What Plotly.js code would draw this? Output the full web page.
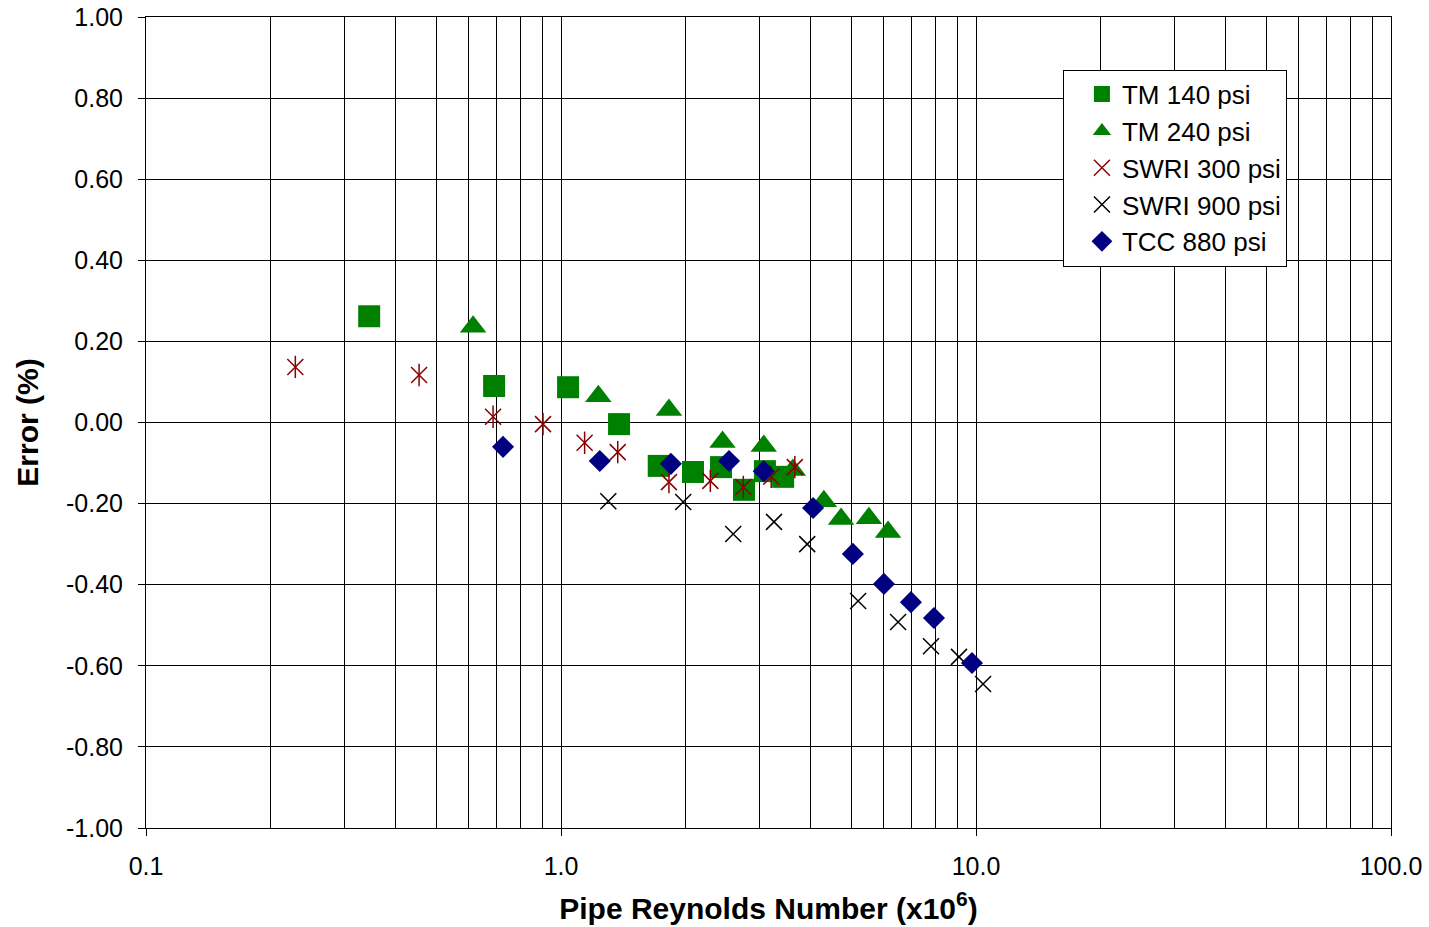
<!DOCTYPE html>
<html><head><meta charset="utf-8">
<script src="https://cdn.plot.ly/plotly-3.0.1.min.js"></script>
<style>html,body{margin:0;padding:0;background:#fff}#chart{width:1429px;height:927px}</style>
</head><body><div id="chart"></div>
<script>
// TM 140 psi
const tm140X = [0.345, 0.690, 1.04, 1.38, 1.72, 2.08, 2.43, 2.76, 3.10, 3.43];
const tm140Y = [0.262, 0.090, 0.087, -0.004, -0.107, -0.122, -0.110, -0.166, -0.120, -0.134];
// TM 240 psi
const tm240X = [0.614, 1.23, 1.82, 2.45, 3.08, 3.62, 4.30, 4.73, 5.52, 6.14];
const tm240Y = [0.236, 0.065, 0.031, -0.048, -0.058, -0.117, -0.194, -0.238, -0.236, -0.270];
// SWRI 300 psi
const swri300X = [0.229, 0.455, 0.686, 0.905, 1.14, 1.37, 1.82, 2.29, 2.75, 3.21, 3.66];
const swri300Y = [0.137, 0.117, 0.014, -0.004, -0.050, -0.073, -0.147, -0.144, -0.159, -0.134, -0.110];
// SWRI 900 psi
const swri900X = [1.30, 1.97, 2.60, 3.26, 3.92, 5.20, 6.49, 7.79, 9.10, 10.4];
const swri900Y = [-0.194, -0.196, -0.275, -0.245, -0.300, -0.440, -0.492, -0.552, -0.578, -0.645];
// TCC 880 psi
const tccX = [0.725, 1.24, 1.84, 2.54, 3.08, 4.05, 5.05, 6.00, 6.97, 7.92, 9.78];
const tccY = [-0.060, -0.095, -0.102, -0.095, -0.120, -0.211, -0.324, -0.398, -0.443, -0.482, -0.593];

// Axis ticks
const xMajor = [0.1, 1, 10, 100];
const xMajorText = ["0.1", "1.0", "10.0", "100.0"];
const yTicks = [-1, -0.8, -0.6, -0.4, -0.2, 0, 0.2, 0.4, 0.6, 0.8, 1];
const yTickText = ["-1.00", "-0.80", "-0.60", "-0.40", "-0.20", "0.00", "0.20", "0.40", "0.60", "0.80", "1.00"];
const xMinor = [];
[0.1, 1, 10].forEach(d => { for (let k = 2; k <= 9; k++) xMinor.push(+(d * k).toPrecision(3)); });

const red = '#8B0000';
const traces = [
  {name: 'TM 140 psi', x: tm140X, y: tm140Y, mode: 'markers', type: 'scatter',
   marker: {symbol: 'square', size: 22, color: '#008000'}},
  {name: 'TM 240 psi', x: tm240X, y: tm240Y, mode: 'markers', type: 'scatter',
   marker: {symbol: 'triangle-up', size: 23, color: '#008000'}},
  {name: 'SWRI 300 psi', x: swri300X, y: swri300Y, mode: 'markers', type: 'scatter', legendgroup: 's3',
   marker: {symbol: 'x-thin-open', size: 16, color: red, line: {color: red, width: 1.5}}},
  {name: 'SWRI 300 psi', x: swri300X, y: swri300Y, mode: 'markers', type: 'scatter', legendgroup: 's3', showlegend: false,
   marker: {symbol: 'line-ns-open', size: 16, color: red, line: {color: red, width: 1.5}}},
  {name: 'SWRI 900 psi', x: swri900X, y: swri900Y, mode: 'markers', type: 'scatter',
   marker: {symbol: 'x-thin-open', size: 16, color: '#000', line: {color: '#000', width: 1.5}}},
  {name: 'TCC 880 psi', x: tccX, y: tccY, mode: 'markers', type: 'scatter',
   marker: {symbol: 'diamond', size: 17, color: '#000080'}}
];

const layout = {
  width: 1429, height: 927,
  margin: {l: 146, r: 38, t: 17, b: 99},
  paper_bgcolor: '#fff', plot_bgcolor: '#fff',
  font: {family: 'Liberation Sans, Arial, sans-serif', color: '#000', size: 25},
  showlegend: true,
  legend: {x: 0.7365, y: 0.935, xanchor: 'left', yanchor: 'top', bgcolor: '#fff',
    bordercolor: '#000', borderwidth: 1, font: {size: 26}, tracegroupgap: 0, itemwidth: 30,
    indentation: 18},
  xaxis: {type: 'log', range: [-1, 2], tickmode: 'array', tickvals: xMajor, ticktext: xMajorText,
    ticks: 'outside', ticklen: 7, tickcolor: '#000', tickwidth: 1, ticklabelstandoff: 9,
    showgrid: true, gridcolor: '#000', gridwidth: 1,
    minor: {tickmode: 'array', tickvals: xMinor, showgrid: true, gridcolor: '#000', gridwidth: 1, ticks: ''},
    showline: true, linecolor: '#000', linewidth: 1, mirror: true, zeroline: false,
    tickfont: {size: 25},
    title: {text: 'Pipe Reynolds Number (x10<sup>6</sup>)', font: {size: 30, weight: 'bold'}, standoff: 18}},
  yaxis: {range: [-1, 1], tickmode: 'array', tickvals: yTicks, ticktext: yTickText,
    ticks: 'outside', ticklen: 7, tickcolor: '#000', tickwidth: 1, ticklabelstandoff: 10,
    showgrid: true, gridcolor: '#000', gridwidth: 1,
    showline: true, linecolor: '#000', linewidth: 1, mirror: true, zeroline: false,
    tickfont: {size: 25},
    title: {text: 'Error (%)', font: {size: 30, weight: 'bold'}, standoff: 18}}
};
Plotly.newPlot('chart', traces, layout, {displayModeBar: false, staticPlot: true});
</script></body></html>
